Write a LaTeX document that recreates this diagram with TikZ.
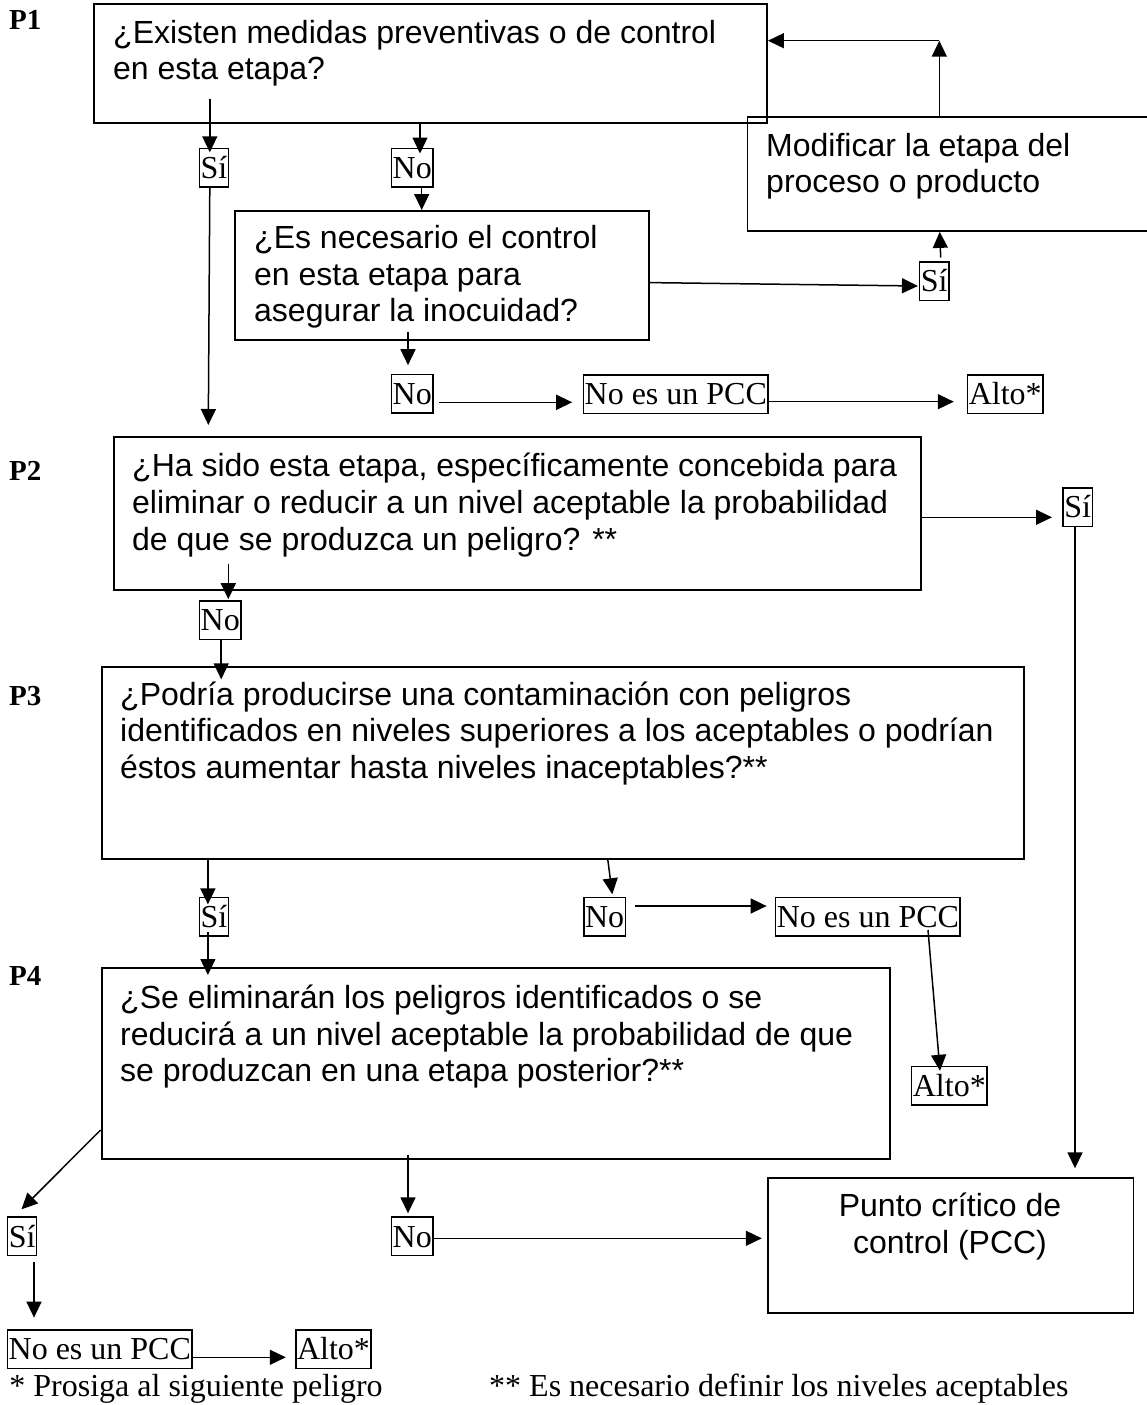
\documentclass[tikz,border=0pt]{standalone}
\usepackage{fontspec}
\setmainfont{Liberation Serif}
\newfontfamily\arialf{Liberation Sans}
\usetikzlibrary{arrows.meta,calc}
\newcommand\qlines[2][l]{\begin{tabular}[t]{@{}#1@{}}#2\end{tabular}}
\tikzset{
  qbox/.style={draw, line width=1.9pt, rectangle, inner sep=0pt, anchor=north west},
  qtext/.style={anchor=base west, inner sep=0pt, font=\arialf\fontsize{32}{36.7}\selectfont},
  lbl/.style={draw, line width=1.5pt, rectangle, font=\fontsize{32}{36}\selectfont,
    inner xsep=1.2pt, inner ysep=1.5pt, text height=28.5pt, text depth=7pt},
  plabel/.style={anchor=base west, inner sep=0pt, font=\bfseries\fontsize{29}{32}\selectfont},
  foot/.style={anchor=base west, inner sep=0pt, font=\fontsize{32}{36}\selectfont},
  arr/.style={line width=1.5pt, -{Triangle[length=16pt,width=15pt]}},
  ln/.style={line width=1.5pt}
}
\begin{document}
\begin{tikzpicture}[x=1pt,y=-1pt]
\useasboundingbox (0,0) rectangle (1146,1405);

% question boxes
\node[qbox, minimum width=672.8pt, minimum height=119pt] (p1) at (93.2,3.3) {};
\node[qbox, minimum width=405.5pt, minimum height=114.3pt] (mod) at (746.5,115.7) {};
\node[qbox, minimum width=414pt, minimum height=129.3pt] (q1b) at (233.8,210) {};
\node[qbox, minimum width=807.1pt, minimum height=153.3pt] (p2) at (112.8,436) {};
\node[qbox, minimum width=922.8pt, minimum height=192pt] (p3) at (100.6,665.7) {};
\node[qbox, minimum width=788.2pt, minimum height=191.6pt] (p4) at (100.6,966.7) {};
\node[qbox, minimum width=365.1pt, minimum height=135pt] (pcc) at (767.4,1176.7) {};

% box texts
\node[qtext] (p1t) at (113,43.3) {\qlines{¿Existen medidas preventivas o de control\\en esta etapa?}};
\node[qtext] (modt) at (766,156) {\qlines{Modificar la etapa del\\proceso o producto}};
\node[qtext] (q1bt) at (254,248.3) {\qlines{¿Es necesario el control\\en esta etapa para\\asegurar la inocuidad?}};
\node[qtext] (p2t) at (132,476.7) {\qlines{¿Ha sido esta etapa, específicamente concebida para\\eliminar o reducir a un nivel aceptable la probabilidad\\de que se produzca un peligro? **}};
\node[qtext] (p3t) at (120,705) {\qlines{¿Podría producirse una contaminación con peligros\\identificados en niveles superiores a los aceptables o podrían\\éstos aumentar hasta niveles inaceptables?**}};
\node[qtext] (p4t) at (120,1008.3) {\qlines{¿Se eliminarán los peligros identificados o se\\reducirá a un nivel aceptable la probabilidad de que\\se produzcan en una etapa posterior?**}};
\node[qtext, anchor=base] (pcct) at (950,1216.7) {\qlines[c]{Punto crítico de\\control (PCC)}};

% side labels
\node[plabel] (lp1) at (9,30) {P1};
\node[plabel] (lp2) at (9,480) {P2};
\node[plabel] (lp3) at (9,705) {P3};
\node[plabel] (lp4) at (9,985) {P4};

% answer labels
\node[lbl] (si1) at (214,167.8) {Sí};
\node[lbl] (no1) at (412.2,167.5) {No};
\node[lbl] (si2) at (934.2,281) {Sí};
\node[lbl] (no2) at (412.2,393.8) {No};
\node[lbl] (nopcc1) at (675.8,394) {No es un PCC};
\node[lbl] (alto1) at (1005.2,394) {Alto*};
\node[lbl] (si3) at (1077.7,507.2) {Sí};
\node[lbl] (no3) at (220.3,620) {No};
\node[lbl] (si4) at (214,916.7) {Sí};
\node[lbl] (no4) at (604.6,916.8) {No};
\node[lbl] (nopcc2) at (867.9,916.8) {No es un PCC};
\node[lbl] (alto2) at (949.3,1085.8) {Alto*};
\node[lbl] (si5) at (22.2,1236.3) {Sí};
\node[lbl] (no5) at (412.2,1236.3) {No};
\node[lbl] (nopcc3) at (99.8,1349.2) {No es un PCC};
\node[lbl] (alto3) at (333.5,1349.2) {Alto*};

% footnotes
\node[foot] (fn1) at (9.2,1396.7) {* Prosiga al siguiente peligro};
\node[foot] (fn2) at (489,1396.7) {** Es necesario definir los niveles aceptables};

% connectors
\coordinate (turn) at (939.3,40.7);
\draw[arr] ($(p1.south -| si1.north)+(-4.2,-25.6)$) -- ($(si1.north)+(-4.2,4.5)$);
\draw[arr] ($(p1.south -| no1.north)+(7.8,0)$) -- ($(no1.north)+(7.8,6)$);
\draw[arr] ($(no1.south)+(9.5,0)$) -- ($(q1b.north -| no1.south)+(9.5,0)$);
\draw[arr] ($(si1.south)+(-4.2,0)$) -- ($(p2.north -| si1.south)+(-5.7,-11)$);
\draw[arr] ($(q1b.east)+(0,7)$) -- ($(si2.west)+(-1,5)$);
\draw[arr] ($(si2.north)+(6.5,-3.4)$) -- ($(mod.south -| si2.north)+(5.5,0)$);
\draw[arr] (turn |- mod.north) -- (turn);
\draw[arr] (turn) -- (turn -| p1.east);
\draw[arr] ($(q1b.south -| no2.north)+(-4.2,-9.3)$) -- ($(no2.north)+(-4.2,-8.6)$);
\draw[arr] ($(no2.east)+(5.5,8.5)$) -- ($(nopcc1.west)+(-10.5,8.3)$);
\draw[arr] ($(nopcc1.east)+(0,7.7)$) -- ($(alto1.west)+(-13,7.7)$);
\draw[arr] ($(p2.east |- si3.west)+(0,10.1)$) -- ($(si3.west)+(-10.4,10.1)$);
\draw[arr] ($(si3.south)+(-2.7,0)$) -- ($(pcc.north -| si3.south)+(-2.7,-8.4)$);
\draw[arr] ($(p2.south -| no3.north)+(8,-27.6)$) -- ($(no3.north)+(8,-0.8)$);
\draw[arr] ($(no3.south)+(0.9,0)$) -- ($(p3.north -| no3.south)+(0.9,13.6)$);
\draw[arr] ($(p3.south -| si4.north)+(-6.1,0)$) -- ($(si4.north)+(-6.1,7.7)$);
\draw[arr] ($(si4.south)+(-6.1,-4.3)$) -- ($(p4.north -| si4.south)+(-6.1,8.3)$);
\draw[arr] ($(p3.south -| no4.north)+(3.2,0)$) -- ($(no4.north)+(7.7,-2.5)$);
\draw[arr] ($(no4.east)+(8.6,-10.8)$) -- ($(nopcc2.west)+(-8.2,-10.8)$);
\draw[arr] ($(nopcc2.center)+(60.1,13.2)$) -- ($(alto2.north)+(-9.3,5)$);
\draw[arr] ($(p4.west)+(0,66.5)$) -- ($(si5.north)+(-0.7,-7)$);
\draw[arr] ($(p4.south -| no5.north)+(-4.2,-5.6)$) -- ($(no5.north)+(-4.2,-3)$);
\draw[arr] ($(no5.east)+(0,2)$) -- ($(pcc.west |- no5.east)+(-5.6,2)$);
\draw[arr] ($(si5.south)+(11.8,5.7)$) -- ($(nopcc3.north -| si5.south)+(11.8,-11.6)$);
\draw[arr] ($(nopcc3.east)+(0,8.1)$) -- ($(alto3.west)+(-9.3,8.1)$);
\end{tikzpicture}
\end{document}
